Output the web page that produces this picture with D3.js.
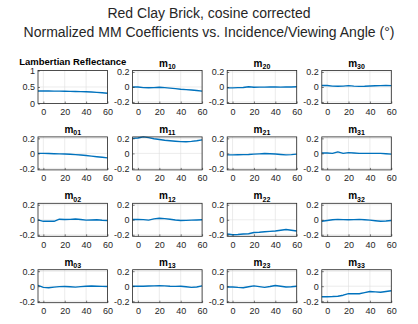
<!DOCTYPE html>
<html>
<head>
<meta charset="utf-8">
<script src="https://cdn.jsdelivr.net/npm/d3@7"></script>
<style>
  body { margin: 0; background: #fff; }
  svg { display: block; font-family: 'Liberation Sans', Arial, sans-serif; }
</style>
</head>
<body>
<svg id="chart" width="418" height="324"></svg>
<script>
// incidence/viewing angles (deg)
const angles = [-5, 0, 5, 10, 15, 20, 25, 30, 35, 40, 45, 50, 55, 60];

// normalized MM coefficients, one array per panel
const lambertian = [0.38, 0.38, 0.378, 0.376, 0.374, 0.371, 0.368, 0.364, 0.36, 0.354, 0.347, 0.338, 0.326, 0.31];
const m10 = [0, 0, -0.008, -0.01, -0.008, -0.004, -0.008, -0.015, -0.022, -0.03, -0.035, -0.04, -0.047, -0.055];
const m20 = [-0.012, -0.012, -0.008, -0.006, 0.004, -0.004, -0.002, -0.002, 0, 0, -0.002, 0, 0, 0.004];
const m30 = [0.02, 0.02, 0.012, 0.01, 0.012, 0.018, 0.012, 0.008, 0.01, 0.014, 0.016, 0.018, 0.02, 0.018];
const m01 = [0, 0, -0.002, -0.004, -0.006, -0.008, -0.012, -0.016, -0.022, -0.028, -0.036, -0.044, -0.052, -0.06];
const m11 = [0.2, 0.205, 0.22, 0.21, 0.195, 0.185, 0.175, 0.168, 0.162, 0.157, 0.156, 0.16, 0.168, 0.18];
const m21 = [-0.02, -0.02, -0.018, -0.016, -0.014, -0.01, -0.006, -0.002, -0.004, -0.008, -0.014, -0.02, -0.016, -0.01];
const m31 = [0.005, 0.005, 0, 0.02, 0, 0.01, 0.005, 0, 0, 0, 0, 0, -0.004, -0.01];
const m02 = [0, -0.02, -0.018, -0.02, 0.008, 0.004, 0.006, 0.01, 0.004, -0.004, -0.002, 0, -0.006, -0.01];
const m12 = [0.005, 0.005, 0.002, -0.004, 0.012, 0.02, 0.016, 0.008, -0.002, -0.01, -0.008, -0.004, -0.002, 0];
const m22 = [-0.19, -0.2, -0.196, -0.19, -0.186, -0.17, -0.166, -0.16, -0.155, -0.15, -0.14, -0.13, -0.14, -0.15];
const m32 = [-0.02, -0.01, 0, 0.005, 0.003, 0, 0.002, 0.005, 0, -0.005, -0.012, -0.02, -0.016, -0.01];
const m03 = [0.01, -0.015, -0.02, -0.012, -0.006, -0.004, -0.008, -0.012, -0.006, 0, 0.002, 0, -0.002, -0.004];
const m13 = [0, 0, 0, 0.002, 0.004, 0.006, 0.004, 0, -0.002, 0, -0.008, -0.016, -0.01, 0.005];
const m23 = [-0.01, -0.01, -0.016, -0.02, -0.008, 0.004, -0.006, -0.015, -0.004, 0.01, 0, -0.01, -0.008, 0];
const m33 = [-0.14, -0.14, -0.138, -0.134, -0.12, -0.1, -0.1, -0.1, -0.085, -0.07, -0.075, -0.08, -0.07, -0.06];

// panels in row-major order: [title, subscript, values]
const panels = [
  ['Lambertian Reflectance', '', lambertian], ['m', '10', m10], ['m', '20', m20], ['m', '30', m30],
  ['m', '01', m01], ['m', '11', m11], ['m', '21', m21], ['m', '31', m31],
  ['m', '02', m02], ['m', '12', m12], ['m', '22', m22], ['m', '32', m32],
  ['m', '03', m03], ['m', '13', m13], ['m', '23', m23], ['m', '33', m33],
];

const xTicks = [0, 20, 40, 60];
const yTicksMM = [-0.2, 0, 0.2];
const yTicksLamb = [0, 0.5, 1];

const titleLines = ['Red Clay Brick, cosine corrected', 'Normalized MM Coefficients vs. Incidence/Viewing Angle (°)'];

const svg = d3.select('#chart');
const axisColor = '#262626';
const lineColor = '#0072BD';

// figure title
svg.append('g')
  .selectAll('text')
  .data(titleLines)
  .join('text')
  .attr('x', 209)
  .attr('y', (_, i) => 18 + i * 18.5)
  .attr('text-anchor', 'middle')
  .attr('font-size', 14)
  .attr('fill', axisColor)
  .text((d) => d);

const panelW = 69.5;
const panelH = 33;
const colLeft = (c) => 38 + c * 94.6;
const rowTop = (r) => 70.5 + r * 66.4;

panels.forEach(([title, sub, values], i) => {
  const r = Math.floor(i / 4);
  const c = i % 4;
  const isLamb = i === 0;

  const x = d3.scaleLinear().domain([-5, 60]).range([0, panelW]);
  const y = d3.scaleLinear()
    .domain(isLamb ? [0, 1] : [-0.22, 0.22])
    .range([panelH, 0]);
  const yTicks = isLamb ? yTicksLamb : yTicksMM;

  const g = svg.append('g').attr('transform', `translate(${colLeft(c)},${rowTop(r)})`);

  // grid
  g.append('g')
    .selectAll('line')
    .data(xTicks)
    .join('line')
    .attr('x1', (d) => x(d)).attr('x2', (d) => x(d))
    .attr('y1', 0).attr('y2', panelH)
    .attr('stroke', '#dfdfdf').attr('stroke-width', 0.6);
  g.append('g')
    .selectAll('line')
    .data(yTicks)
    .join('line')
    .attr('x1', 0).attr('x2', panelW)
    .attr('y1', (d) => y(d)).attr('y2', (d) => y(d))
    .attr('stroke', '#dfdfdf').attr('stroke-width', 0.6);

  // data line
  g.append('path')
    .datum(values)
    .attr('fill', 'none')
    .attr('stroke', lineColor)
    .attr('stroke-width', 1.4)
    .attr('stroke-linejoin', 'round')
    .attr('d', d3.line().x((_, k) => x(angles[k])).y((d) => y(d)));

  // box
  g.append('rect')
    .attr('width', panelW).attr('height', panelH)
    .attr('fill', 'none').attr('stroke', axisColor).attr('stroke-width', 0.8);

  // axes
  const xAxis = g.append('g')
    .attr('transform', `translate(0,${panelH})`)
    .call(d3.axisBottom(x).tickValues(xTicks).tickSize(-2).tickPadding(5).tickFormat(d3.format('d')));
  const yAxis = g.append('g')
    .call(d3.axisLeft(y).tickValues(yTicks).tickSize(-2).tickPadding(3)
      .tickFormat((d) => (d === 0 ? '0' : String(d).replace('−', '-'))));
  [xAxis, yAxis].forEach((a) => {
    a.select('.domain').remove();
    a.selectAll('line').attr('stroke', axisColor).attr('stroke-width', 0.6);
    a.selectAll('text').attr('fill', axisColor).attr('font-size', 9).attr('font-family', null);
  });

  // panel title
  const t = g.append('text')
    .attr('x', panelW / 2)
    .attr('y', isLamb ? -5.5 : -4)
    .attr('text-anchor', 'middle')
    .attr('font-weight', 'bold')
    .attr('font-size', isLamb ? 9.5 : 10)
    .attr('fill', '#000')
    .text(title);
  if (sub) {
    t.append('tspan')
      .attr('font-size', 7)
      .attr('dy', 2.5)
      .text(sub);
  }
});
</script>
</body>
</html>
